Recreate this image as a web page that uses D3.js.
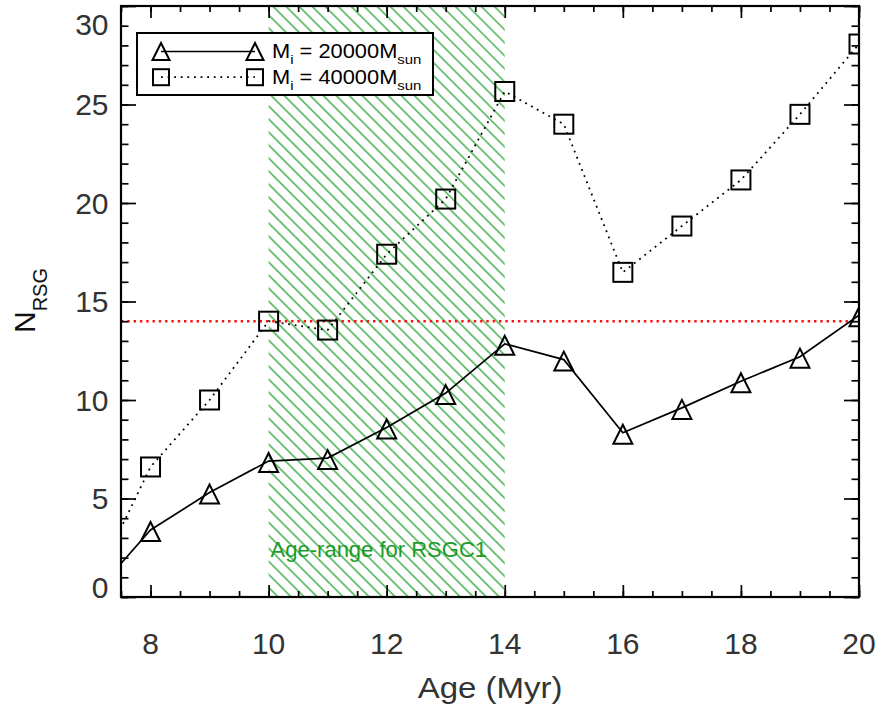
<!DOCTYPE html>
<html>
<head>
<meta charset="utf-8">
<script src="https://cdn.jsdelivr.net/npm/d3@7"></script>
<style>
  html, body { margin: 0; padding: 0; background: #fff; }
  svg { display: block; font-family: "Liberation Sans", Arial, Helvetica, sans-serif; }
</style>
</head>
<body>
<svg id="chart" width="880" height="710"></svg>
<script>
// Number of red supergiants vs. cluster age for two initial cluster masses
const ages = [7, 8, 9, 10, 11, 12, 13, 14, 15, 16, 17, 18, 19, 20];
const nRsg20000 = [0.0, 3.4, 5.3, 6.9, 7.05, 8.6, 10.35, 12.85, 12.05, 8.34, 9.6, 10.95, 12.2, 14.3];
const nRsg40000 = [0.4, 6.6, 10.0, 14.0, 13.55, 17.4, 20.2, 25.66, 24.0, 16.48, 18.83, 21.17, 24.5, 28.07];
const observedN = 14;            // observed number of RSGs (horizontal reference)
const ageRange = [10, 14];       // age range for RSGC1 (hatched band)
const xDomain = [7.5, 20];
const yDomain = [0, 30];
const xMajorTicks = [8, 10, 12, 14, 16, 18, 20];
const yMajorTicks = [0, 5, 10, 15, 20, 25, 30];

const svg = d3.select("#chart");
const L = 121, R = 859, T = 6, B = 597;
const x = d3.scaleLinear().domain(xDomain).range([L, R]);
const y = d3.scaleLinear().domain(yDomain).range([B, T]);

const defs = svg.append("defs");
defs.append("clipPath").attr("id", "plotClip")
  .append("rect").attr("x", L).attr("y", T).attr("width", R - L).attr("height", B - T);

const green = "#1a9e24";
const hatch = defs.append("pattern")
  .attr("id", "hatch").attr("patternUnits", "userSpaceOnUse")
  .attr("width", 9.2).attr("height", 20)
  .attr("patternTransform", "rotate(-45)");
hatch.append("line").attr("x1", 4.6).attr("x2", 4.6).attr("y1", 0).attr("y2", 20)
  .attr("stroke", green).attr("stroke-width", 1.2);

const plot = svg.append("g").attr("clip-path", "url(#plotClip)");

// hatched age band
plot.append("rect")
  .attr("x", x(ageRange[0])).attr("width", x(ageRange[1]) - x(ageRange[0]))
  .attr("y", T).attr("height", B - T)
  .attr("fill", "url(#hatch)");

plot.append("text")
  .attr("x", x(ageRange[0]) + 2).attr("y", 557)
  .attr("fill", "#1c9c2c").attr("font-size", 22)
  .text("Age-range for RSGC1");

// observed count line
plot.append("line")
  .attr("x1", L).attr("x2", R).attr("y1", y(observedN)).attr("y2", y(observedN))
  .attr("stroke", "#ff1010").attr("stroke-width", 2.6).attr("stroke-dasharray", "2.4,3.9");

const line = d3.line().x((d, i) => x(ages[i])).y(d => y(d));

plot.append("path").datum(nRsg40000)
  .attr("d", line).attr("fill", "none").attr("stroke", "#000")
  .attr("stroke-width", 1.8).attr("stroke-dasharray", "1.8,4.8");

plot.append("path").datum(nRsg20000)
  .attr("d", line).attr("fill", "none").attr("stroke", "#000").attr("stroke-width", 1.7);

function trianglePath(cx, cy, h, off) {
  const top = cy - h / 2 - off, bot = cy + h / 2 - off;
  return `M${cx},${top}L${cx + h / 2},${bot}L${cx - h / 2},${bot}Z`;
}
const triOffset = -1.5;
plot.append("g").selectAll("path").data(nRsg20000).join("path")
  .attr("d", (d, i) => trianglePath(x(ages[i]), y(d), 19, triOffset))
  .attr("fill", "none").attr("stroke", "#000").attr("stroke-width", 2);

plot.append("g").selectAll("rect").data(nRsg40000).join("rect")
  .attr("x", (d, i) => x(ages[i]) - 9.5).attr("y", d => y(d) - 9.5)
  .attr("width", 19).attr("height", 19)
  .attr("fill", "none").attr("stroke", "#000").attr("stroke-width", 2);

// legend
const lg = svg.append("g");
lg.append("rect").attr("x", 137).attr("y", 33).attr("width", 296).attr("height", 62)
  .attr("fill", "#fff").attr("stroke", "#000").attr("stroke-width", 2);
const legendRows = [
  { y: 51.5, mass: "20000", kind: "tri" },
  { y: 77.2, mass: "40000", kind: "sq" }
];
const lx1 = 161, lx2 = 255;
legendRows.forEach(r => {
  lg.append("line").attr("x1", lx1).attr("x2", lx2).attr("y1", r.y).attr("y2", r.y)
    .attr("stroke", "#000")
    .attr("stroke-width", r.kind === "tri" ? 1.7 : 1.8)
    .attr("stroke-dasharray", r.kind === "tri" ? null : "1.8,4.8");
  [lx1, lx2].forEach(cx => {
    if (r.kind === "tri") {
      lg.append("path").attr("d", trianglePath(cx, r.y, 17, 0))
        .attr("fill", "none").attr("stroke", "#000").attr("stroke-width", 2);
    } else {
      lg.append("rect").attr("x", cx - 8).attr("y", r.y - 8).attr("width", 16).attr("height", 16)
        .attr("fill", "none").attr("stroke", "#000").attr("stroke-width", 2);
    }
  });
  const t = lg.append("text")
    .attr("transform", `translate(272,${r.y + 6.5}) scale(1.15,1.02)`)
    .attr("font-size", 19).attr("fill", "#000");
  t.append("tspan").text("M");
  t.append("tspan").attr("font-size", 13).attr("dy", 6).text("i");
  t.append("tspan").attr("dy", -6).text(" = " + r.mass + "M");
  t.append("tspan").attr("font-size", 13).attr("dy", 6).text("sun");
});

// axes: ticks point inward on all four sides
const tickW = 1.7;
function styleAxis(g) {
  g.select(".domain").remove();
  g.selectAll(".tick line").attr("stroke", "#000").attr("stroke-width", tickW);
  g.selectAll(".tick text").remove();
}
const xMinor = d3.range(xDomain[0], xDomain[1] + 0.001, 0.5);
const yMinor = d3.range(yDomain[0], yDomain[1] + 0.001, 1);

svg.append("g").attr("transform", `translate(0,${B})`)
  .call(d3.axisBottom(x).tickValues(xMinor).tickSize(-6)).call(styleAxis);
svg.append("g").attr("transform", `translate(0,${B})`)
  .call(d3.axisBottom(x).tickValues(xMajorTicks).tickSize(-12)).call(styleAxis);
svg.append("g").attr("transform", `translate(0,${T})`)
  .call(d3.axisTop(x).tickValues(xMinor).tickSize(-6)).call(styleAxis);
svg.append("g").attr("transform", `translate(0,${T})`)
  .call(d3.axisTop(x).tickValues(xMajorTicks).tickSize(-12)).call(styleAxis);
svg.append("g").attr("transform", `translate(${L},0)`)
  .call(d3.axisLeft(y).tickValues(yMinor).tickSize(-7.5)).call(styleAxis);
svg.append("g").attr("transform", `translate(${L},0)`)
  .call(d3.axisLeft(y).tickValues(yMajorTicks).tickSize(-15)).call(styleAxis);
svg.append("g").attr("transform", `translate(${R},0)`)
  .call(d3.axisRight(y).tickValues(yMinor).tickSize(-7.5)).call(styleAxis);
svg.append("g").attr("transform", `translate(${R},0)`)
  .call(d3.axisRight(y).tickValues(yMajorTicks).tickSize(-15)).call(styleAxis);

svg.append("rect").attr("x", L).attr("y", T).attr("width", R - L).attr("height", B - T)
  .attr("fill", "none").attr("stroke", "#000").attr("stroke-width", 2.2);

// tick labels
svg.append("g").selectAll("text").data(xMajorTicks).join("text")
  .attr("x", d => x(d)).attr("y", 654)
  .attr("text-anchor", "middle").attr("font-size", 30).attr("fill", "#333")
  .text(d => d);
svg.append("g").selectAll("text").data(yMajorTicks).join("text")
  .attr("x", 108.5).attr("y", d => Math.max(24.5, Math.min(587, y(d))))
  .attr("dy", "0.36em")
  .attr("text-anchor", "end").attr("font-size", 30).attr("fill", "#333")
  .text(d => d);

// axis titles
svg.append("text")
  .attr("transform", `translate(${(L + R) / 2},698) scale(1.1,1)`)
  .attr("text-anchor", "middle").attr("font-size", 30).attr("fill", "#333")
  .text("Age (Myr)");

const yt = svg.append("text")
  .attr("transform", "translate(35,333) rotate(-90)")
  .attr("font-size", 30).attr("fill", "#111");
yt.append("tspan").text("N");
yt.append("tspan").attr("font-size", 20).attr("dy", 12).text("RSG");
</script>
</body>
</html>
